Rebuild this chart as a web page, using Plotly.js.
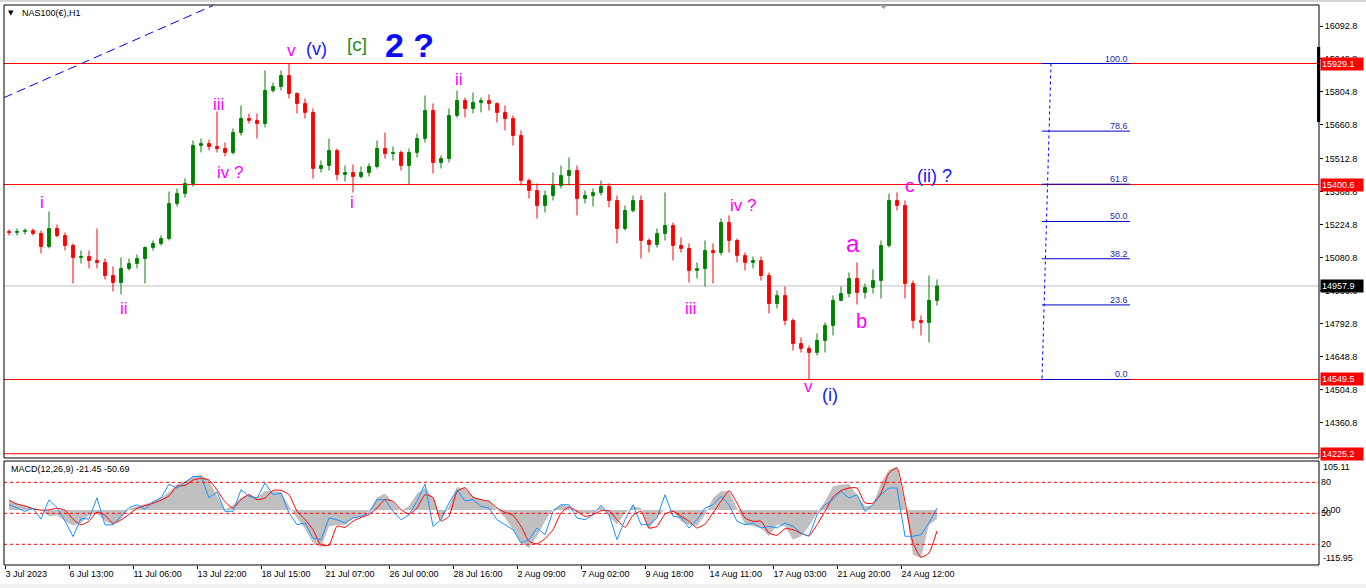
<!DOCTYPE html>
<html><head><meta charset="utf-8">
<script src="https://cdn.plot.ly/plotly-3.0.1.min.js"></script>
<style>html,body{margin:0;padding:0;background:#fff;overflow:hidden}#chart{width:1366px;height:588px}</style>
</head><body><div id="chart"></div>
<script>
// ---------- data ----------
const symbolTitle = 'NAS100(€),H1';
// each bar = 8 hourly bars aggregated
const barOpen = [
15195.7,15191.3,15195.7,15200.1,15187.0,15130.2,15208.8,15178.2,15134.6,15082.2,
15086.6,15069.1,15060.4,15003.6,14973.0,15034.2,15056.0,15077.8,15125.8,15143.3,
15165.1,15317.9,15361.6,15405.3,15571.2,15579.9,15566.8,15558.1,15540.6,15627.9,
15689.0,15680.3,15667.2,15811.3,15828.7,15876.8,15798.2,15754.5,15715.2,15470.7,
15483.8,15549.3,15444.6,15453.3,15435.8,15453.3,15479.5,15558.1,15536.2,15540.6,
15483.8,15540.6,15601.7,15724.0,15496.9,15514.4,15702.1,15767.6,15732.7,15758.9,
15767.6,15754.5,15715.2,15689.0,15614.8,15418.4,15374.7,15309.2,15352.9,15396.5,
15440.2,15462.0,15339.8,15352.9,15366.0,15392.2,15331.0,15208.8,15287.4,15331.0,
15156.4,15138.9,15187.0,15221.9,15134.6,15121.5,15025.4,15034.2,15112.7,15104.0,
15235.0,15156.4,15090.9,15060.4,15069.1,15003.6,14881.4,14916.3,14807.1,14706.7,
14684.9,14667.4,14719.8,14785.3,14894.5,14925.0,14990.5,14929.4,14951.2,14981.8,
15134.6,15331.0,15309.2,14968.7,14807.1,14798.4,14894.5];
const barHigh = [
15204.4,15208.8,15208.8,15208.8,15200.1,15283.0,15226.3,15191.3,15143.3,15112.7,
15112.7,15208.8,15077.8,15042.9,15082.2,15077.8,15095.3,15130.2,15156.4,15178.2,
15370.3,15383.4,15427.1,15593.0,15601.7,15597.4,15719.6,15584.3,15645.4,15745.8,
15710.9,15710.9,15898.6,15846.2,15898.6,15929.1,15802.5,15776.4,15732.7,15505.7,
15601.7,15558.1,15483.8,15488.2,15479.5,15492.6,15593.0,15627.9,15566.8,15549.3,
15558.1,15623.5,15789.4,15754.5,15527.5,15732.7,15811.3,15780.7,15802.5,15780.7,
15793.8,15758.9,15745.8,15702.1,15636.6,15427.1,15405.3,15374.7,15453.3,15483.8,
15518.8,15483.8,15374.7,15383.4,15418.4,15405.3,15352.9,15309.2,15352.9,15352.9,
15165.1,15208.8,15366.0,15235.0,15169.5,15143.3,15060.4,15156.4,15143.3,15252.5,
15265.6,15165.1,15104.0,15086.6,15086.6,15016.7,14938.1,14955.6,14815.9,14732.9,
14698.0,14750.4,14798.4,14916.3,14955.6,15016.7,15060.4,14968.7,15029.8,15156.4,
15361.6,15366.0,15331.0,14981.8,14829.0,15003.6,14986.1];
const barLow = [
15178.2,15178.2,15182.6,15178.2,15099.7,15121.5,15169.5,15112.7,14968.7,15056.0,
15034.2,15034.2,14986.1,14933.8,14920.7,15025.4,15034.2,14968.7,15112.7,15134.6,
15156.4,15304.8,15344.1,15392.2,15540.6,15549.3,15540.6,15523.1,15531.9,15614.8,
15667.2,15601.7,15649.7,15802.5,15811.3,15776.4,15710.9,15689.0,15427.1,15453.3,
15462.0,15418.4,15414.0,15366.0,15427.1,15435.8,15470.7,15514.4,15505.7,15462.0,
15400.9,15518.8,15584.3,15448.9,15470.7,15496.9,15693.4,15693.4,15710.9,15715.2,
15724.0,15671.6,15636.6,15571.2,15396.5,15339.8,15252.5,15278.6,15331.0,15383.4,
15396.5,15265.6,15317.9,15304.8,15352.9,15300.5,15143.3,15200.1,15278.6,15077.8,
15104.0,15125.8,15156.4,15069.1,15104.0,14973.0,14990.5,14955.6,14968.7,15090.9,
15104.0,15060.4,15025.4,15034.2,14981.8,14837.7,14859.5,14785.3,14676.2,14667.4,
14549.5,14654.3,14667.4,14741.7,14894.5,14907.6,14877.0,14903.2,14925.0,14903.2,
15125.8,15287.4,14903.2,14772.2,14741.7,14711.1,14872.6];
const barClose = [
15191.3,15195.7,15200.1,15187.0,15130.2,15208.8,15178.2,15134.6,15082.2,15086.6,
15069.1,15060.4,15003.6,14973.0,15034.2,15056.0,15077.8,15125.8,15143.3,15165.1,
15317.9,15361.6,15405.3,15571.2,15579.9,15566.8,15558.1,15540.6,15627.9,15689.0,
15680.3,15667.2,15811.3,15828.7,15876.8,15798.2,15754.5,15715.2,15470.7,15483.8,
15549.3,15444.6,15453.3,15435.8,15453.3,15479.5,15558.1,15536.2,15540.6,15483.8,
15540.6,15601.7,15724.0,15496.9,15514.4,15702.1,15767.6,15732.7,15758.9,15767.6,
15754.5,15715.2,15689.0,15614.8,15418.4,15374.7,15309.2,15352.9,15396.5,15440.2,
15462.0,15339.8,15352.9,15366.0,15392.2,15331.0,15208.8,15287.4,15331.0,15156.4,
15138.9,15187.0,15221.9,15134.6,15121.5,15025.4,15034.2,15112.7,15104.0,15235.0,
15156.4,15090.9,15060.4,15069.1,15003.6,14881.4,14916.3,14807.1,14706.7,14684.9,
14667.4,14719.8,14785.3,14894.5,14925.0,14990.5,14929.4,14951.2,14981.8,15134.6,
15331.0,15309.2,14968.7,14807.1,14798.4,14894.5,14957.9];

// MACD(12,26,9): main (grey histogram) and signal (red), in MACD units
const macdHistogram = [
22.9,14.5,9.8,5.1,0.4,-15.5,-12.7,-26.7,-38,-31.4,-12.7,-8,-26.7,-36.1,-22,3.2,8.8,15.4,20.1,29.4,43.5,62.2,68.8,80.9,85.6,71.6,34.1,1.4,
12,30,38,30,46,46,44,10,-20,-45,-80,-90,-40,-36,-36,-20,-15,-3,30,40,20,-2,10,40,53,30,-25,10,55,
52,33,25,21,1,-19,-47.5,-79.7,-91.8,-63.6,-27.3,1,12.8,8.9,-7.2,-7.2,-7.2,8.9,-15.2,-35.5,-7.2,8.9,4.8,-47.5,-15.2,1,-3.1,-27.3,-35.5,
-38,-11.3,29,45.2,45.2,4.8,-35.5,-39.4,-43.5,-63.6,-35.5,-39.4,-71.7,-63.6,-39.4,-7.2,21,57.2,61.1,62.8,37,8.9,11.4,65.2,97.4,105.11,12.8,-108,-115.95,-35.5,-21.45];
const macdSignal = [
23.8,14.5,9.8,3.2,-0.5,0.4,4.2,-0.5,-22,-36.1,-26.7,-5.2,-12.7,-32.3,-23.9,-10.8,4.2,10.7,16.3,23.8,34.1,57.5,59.4,72.5,76.2,72.5,48.2,20.1,
4.8,25,37,25,29,47.5,47.5,37,-3,-23,-47.5,-85,-85,-39,-42,-27,-18,-11,5,25,21,1,-10,5,37,30,-27,-15,44,
54,30.6,25,21,4.8,-5.6,-12.8,-39.4,-75.6,-82,-69.3,-47.5,-7.2,7.2,-3.1,-15.2,-11.3,-1.7,-1.7,-23.4,-41.8,-12.8,-3.1,-43.5,-39.4,-9.7,-3.1,-15.2,-27.3,
-43.5,-33.8,-7.2,21,46.6,16.9,-19.3,-27.3,-27.3,-55.6,-61.1,-45.2,-47.5,-56.3,-62.1,-35.5,-3.1,31.4,46.6,53.1,53.1,16.9,16.9,41.1,89.4,101.4,21,-79.7,-114.3,-103.9,-50.69];
// blue oscillator drawn in the same window, 0..100 scale (levels 80 / 50 / 20)
const oscillatorBlue = [
58.3,54.9,51.9,54.9,44.4,63.1,55.6,42.5,27.5,45.1,44.4,65,38.8,38.8,47,55.6,58.3,53.8,61.3,65,78.1,74.4,80,85.6,85.6,65,70.6,51.9,
51.9,72.8,66.4,64.8,79.3,68,69.6,50.3,39,40.6,26.1,24.5,45.5,43.8,40.6,45.5,47.1,50.3,63.2,63.2,51.9,43.8,48.6,61.6,78.3,37.4,43.8,60,72.8,
62,63.2,56.8,55.1,43.8,39,34.1,21.3,24.5,35.8,29.3,51.9,58.3,58.3,45.5,43.8,48.6,57.7,48.6,24.5,43.8,58.3,39,39,45.5,68,47.1,46.1,35.8,
44,55.1,58.3,66.4,58.3,42.3,39,40.6,35.8,37.4,35.8,40.6,37.4,30.9,27.8,48.6,58.3,63.2,71.2,64.8,68,51.9,58.3,68,74.5,74.5,27.8,27.8,29.3,40.6,55.1];
const oscillatorLevels = [80, 50, 20];

const levelPrices = [15929.1, 15400.6, 14549.5, 14225.2];
const fibHigh = 15929.1, fibLow = 14549.5;
const fibRatios = [0.0, 23.6, 38.2, 50.0, 61.8, 78.6, 100.0];
const priceTicks = [16092.8,15948.8,15804.8,15660.8,15512.8,15368.8,15224.8,15080.8,14936.8,14792.8,14648.8,14504.8,14360.8];
const timeTickHours = [0,64,128,192,256,320,384,448,512,576,640,704,768,832,896];
const timeTickLabels = ['3 Jul 2023','6 Jul 13:00','11 Jul 06:00','13 Jul 22:00','18 Jul 15:00','21 Jul 07:00','26 Jul 00:00','28 Jul 16:00','2 Aug 09:00','7 Aug 02:00','9 Aug 18:00','14 Aug 11:00','17 Aug 03:00','21 Aug 20:00','24 Aug 12:00'];

// ---------- build ----------
const barHours = barOpen.map((_, i) => i * 8 + 4);
const F = 'Liberation Sans, Arial, sans-serif';
const MAGENTA = '#ff00ff', BLUE = '#1414ff';

const traces = [
  {type:'candlestick', x:barHours, open:barOpen, high:barHigh, low:barLow, close:barClose,
   xaxis:'x', yaxis:'y', whiskerwidth:0, hoverinfo:'skip',
   increasing:{line:{color:'#008000', width:1}, fillcolor:'#008000'},
   decreasing:{line:{color:'#ff0000', width:1}, fillcolor:'#ff0000'}},
  {type:'scatter', mode:'lines', x:barHours, y:macdHistogram, xaxis:'x', yaxis:'y2',
   fill:'tozeroy', fillcolor:'#c0c0c0', line:{width:0, color:'#c0c0c0'}, hoverinfo:'skip'},
  {type:'scatter', mode:'lines', x:barHours, y:oscillatorBlue, xaxis:'x', yaxis:'y3',
   line:{width:1, color:'#1e90ff'}, hoverinfo:'skip'},
  {type:'scatter', mode:'lines', x:barHours, y:macdSignal, xaxis:'x', yaxis:'y2',
   line:{width:1, color:'#ff0000', shape:'spline', smoothing:0.5}, hoverinfo:'skip'}
];

const shapes = [];
levelPrices.forEach(p => shapes.push({type:'line', xref:'paper', x0:0, x1:1, yref:'y', y0:p, y1:p, line:{color:'#ff0000', width:1}, layer:'below'}));
const lastClose = barClose[barClose.length - 1];
shapes.push({type:'line', xref:'paper', x0:0, x1:1, yref:'y', y0:lastClose, y1:lastClose, line:{color:'#c0c0c0', width:1}, layer:'below'});
oscillatorLevels.forEach(v => shapes.push({type:'line', xref:'paper', x0:0, x1:1, yref:'y3', y0:v, y1:v, line:{color:'#ff0000', width:1, dash:'3px,3px'}, layer:'above'}));
// fibonacci
fibRatios.forEach(r => {
  const p = fibLow + (fibHigh - fibLow) * r / 100;
  shapes.push({type:'line', xref:'x', x0:1037, x1:1125, yref:'y', y0:p, y1:p, line:{color:'#0000cc', width:1}});
});
shapes.push({type:'line', xref:'x', x0:1046, x1:1037, yref:'y', y0:fibHigh, y1:fibLow, line:{color:'#0000ff', width:1, dash:'3px,3px'}});
// trend line top-left
shapes.push({type:'line', xref:'x', x0:-1, x1:208, yref:'y', y0:15780, y1:16182, line:{color:'#0000ff', width:1, dash:'9px,5px'}});
// panel borders
shapes.push({type:'rect', xref:'paper', yref:'paper', x0:0, x1:1, y0:0.1911, y1:1, line:{color:'#000', width:1}});
shapes.push({type:'rect', xref:'paper', yref:'paper', x0:0, x1:1, y0:0, y1:0.1857, line:{color:'#000', width:1}});
// scale bar on right edge
shapes.push({type:'rect', xref:'paper', yref:'paper', x0:0.9985, x1:1.0009, y0:0.791, y1:0.925, fillcolor:'#000', line:{width:0}});
// chart-shift marker
shapes.push({type:'path', xref:'paper', yref:'paper', path:'M 0.666 1 L 0.672 1 L 0.669 0.993 Z', fillcolor:'#a0a0a0', line:{width:0}});
// window frame strips
shapes.push({type:'rect', xref:'paper', yref:'paper', x0:-0.01, x1:1.05, y0:1.0054, y1:1.02, fillcolor:'#d4d4d4', line:{width:0}});
shapes.push({type:'rect', xref:'paper', yref:'paper', x0:-0.01, x1:1.05, y0:-0.05, y1:-0.034, fillcolor:'#f0f0f0', line:{width:0}});

const annotations = [];
function wave(text, x, y, color, size, bold) {
  annotations.push({xref:'x', yref:'y', x:x, y:y, text: bold ? '<b>'+text+'</b>' : text, showarrow:false,
    font:{family:F, size:size, color:color}, xanchor:'center', yanchor:'middle'});
}
wave('i', 37, 15323, MAGENTA, 17);
wave('ii', 119, 14859, MAGENTA, 17);
wave('iii', 213, 15750, MAGENTA, 17);
wave('iv ?', 225, 15453, MAGENTA, 17);
wave('v', 286, 15985, MAGENTA, 17);
wave('(v)', 311, 15992, BLUE, 18);
wave('[c]', 352, 16012, '#228b22', 19);
wave('2 ?', 404, 16012, '#0a0aff', 34, true);
wave('i', 347, 15323, MAGENTA, 17);
wave('ii', 454, 15859, MAGENTA, 17);
wave('iii', 685, 14858, MAGENTA, 17);
wave('iv ?', 738, 15309, MAGENTA, 17);
wave('v', 803, 14517, MAGENTA, 17);
wave('(i)', 825, 14480, BLUE, 18);
wave('a', 848, 15142, MAGENTA, 24);
wave('b', 856, 14804, MAGENTA, 20);
wave('c', 905, 15396, MAGENTA, 19);
wave('(ii) ?', 929, 15440, BLUE, 18);

fibRatios.forEach(r => {
  const p = fibLow + (fibHigh - fibLow) * r / 100;
  annotations.push({xref:'x', yref:'y', x:1125, y:p, text:r.toFixed(1), showarrow:false, xanchor:'right', yanchor:'bottom',
    yshift:-2, font:{family:F, size:9, color:'#2a2aa0'}});
});

function priceBox(p, bg) {
  annotations.push({xref:'paper', yref:'y', x:1, y:p, xanchor:'left', yanchor:'middle', xshift:1, text:p.toFixed(1),
    showarrow:false, bgcolor:bg, borderpad:1, width:40, height:10, align:'left',
    font:{family:F, size:9, color:'#ffffff'}});
}
levelPrices.forEach(p => priceBox(p, '#ff0000'));
priceBox(lastClose, '#000000');

// MACD window scale labels: max, zero, min of the MACD; level labels of the oscillator
const macdMax = Math.max(...macdHistogram), macdMin = Math.min(...macdHistogram);
[[macdMax, macdMax.toFixed(2)], [0, '0.00'], [macdMin, macdMin.toFixed(2)]].forEach(([v, t]) =>
  annotations.push({xref:'paper', yref:'y2', x:1, y:v, xanchor:'left', yanchor:'middle', xshift:2, text:t,
    showarrow:false, font:{family:F, size:9, color:'#000'}}));
oscillatorLevels.forEach(v =>
  annotations.push({xref:'paper', yref:'y3', x:1, y:v, xanchor:'left', yanchor:'middle', xshift:0, text:String(v),
    showarrow:false, font:{family:F, size:9, color:'#000'}}));

annotations.push({xref:'paper', yref:'paper', x:0.0038, y:0.1709, xanchor:'left', yanchor:'middle',
  text:'MACD(12,26,9) ' + macdHistogram[macdHistogram.length-1].toFixed(2) + ' ' + macdSignal[macdSignal.length-1].toFixed(2),
  showarrow:false, font:{family:F, size:9, color:'#000'}});
annotations.push({xref:'paper', yref:'paper', x:0.0122, y:0.9863, xanchor:'left', yanchor:'middle', text:symbolTitle,
  showarrow:false, font:{family:F, size:9, color:'#000'}});
annotations.push({xref:'paper', yref:'paper', x:0.0057, y:0.9863, xanchor:'center', yanchor:'middle', text:'▼',
  showarrow:false, font:{family:'DejaVu Sans', size:7, color:'#000'}});

const layout = {
  width:1366, height:588,
  margin:{l:4, r:47, t:5, b:23},
  paper_bgcolor:'#ffffff', plot_bgcolor:'#ffffff',
  showlegend:false, boxgap:0.5,
  xaxis:{domain:[0,1], range:[-1,1314], anchor:'y2', rangeslider:{visible:false},
    tickvals:timeTickHours, ticktext:timeTickLabels, ticks:'outside', ticklen:3, tickcolor:'#000',
    ticklabelposition:'outside right', tickfont:{family:F, size:9, color:'#000'},
    showgrid:false, zeroline:false, showline:false, fixedrange:true},
  yaxis:{domain:[0.1911,1], range:[14206.8,16184.5], side:'right', anchor:'x',
    tickvals:priceTicks, ticktext:priceTicks.map(v=>v.toFixed(1)), ticks:'outside', ticklen:3, tickcolor:'#000',
    tickfont:{family:F, size:9, color:'#000'}, showgrid:false, zeroline:false, showline:false, fixedrange:true},
  yaxis2:{domain:[0,0.1857], range:[-132.9,118.4], side:'right', anchor:'x', showticklabels:false, ticks:'',
    showgrid:false, zeroline:false, showline:false, fixedrange:true},
  yaxis3:{domain:[0,0.1857], range:[0,100.6], overlaying:'y2', side:'right', anchor:'x', showticklabels:false, ticks:'',
    showgrid:false, zeroline:false, showline:false, fixedrange:true},
  shapes:shapes, annotations:annotations
};
Plotly.newPlot('chart', traces, layout, {staticPlot:true, displayModeBar:false});
</script></body></html>
